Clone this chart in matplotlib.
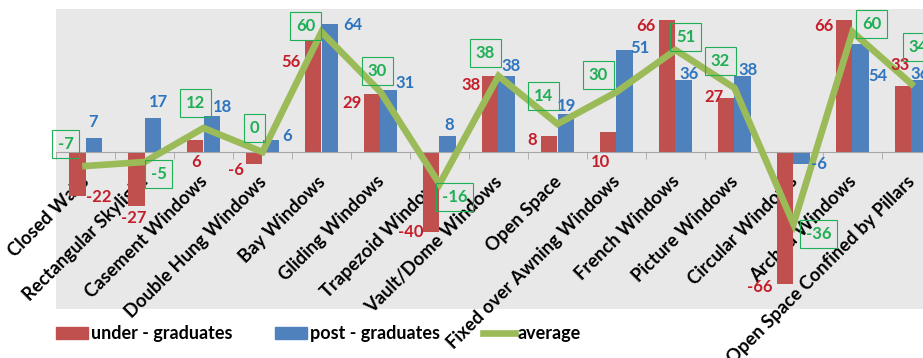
import numpy as np
import matplotlib.pyplot as plt
from matplotlib.patches import Patch
from matplotlib.lines import Line2D
from matplotlib.transforms import ScaledTranslation

# window types and survey scores
categories = ["Closed Walls", "Rectangular Skylight", "Casement Windows",
              "Double Hung Windows", "Bay Windows", "Gliding Windows",
              "Trapezoid Windows", "Vault/Dome Windows", "Open Space",
              "Fixed over Awning Windows", "French Windows", "Picture Windows",
              "Circular Windows", "Arched Windows", "Open Space Confined by Pillars"]
under_grad = [-22, -27, 6, -6, 56, 29, -40, 38, 8, 10, 66, 27, -66, 66, 33]
post_grad = [7, 17, 18, 6, 64, 31, 8, 38, 19, 51, 36, 38, -6, 54, 36]
average = [-7, -5, 12, 0, 60, 30, -16, 38, 14, 30, 51, 32, -36, 60, 34]

# hand placed label offsets (pixels)
under_off = [(22, -1), (-2, -12), (1, -22), (-18, -6), (-22, -22), (-20, -9),
             (-20, 0), (-19, -9), (-17, -4), (-8, -30), (-21, -6), (-12, 1),
             (-25, -3), (-20, -6), (-3, 21)]
post_off = [(-1, 16), (5, 16), (10, 9), (16, 4), (23, -1), (16, 7), (1, 11),
            (4, 10), (1, 8), (15, 2), (5, 6), (5, 6), (17, 0), (17, -32), (0, 6)]
avg_off = [(-20, 22), (14, -12), (-8, 25), (-8, 24), (-16, 6), (-3, 21),
           (15, -13), (-13, 23), (-14, 28), (-18, 17), (10, 13), (-14, 27),
           (25, -10), (19, 8), (7, 37)]

red = "#C0504D"
blue = "#4F81BD"
green = "#9BBB59"
red_txt = "#C41E2A"
blue_txt = "#2E75C0"
green_txt = "#1FAF55"

plt.rcParams['font.family'] = ['Lato', 'DejaVu Sans']
plt.rcParams['font.weight'] = 'bold'

fig = plt.figure(figsize=(9.23, 3.58), dpi=100)
ax = fig.add_axes([56 / 923, 49 / 358, 885 / 923, 300 / 358])
ax.set_facecolor("#E8E8E8")

x = np.arange(len(categories))
w = 0.288
ax.bar(x - w / 2, under_grad, w, color=red, zorder=2)
ax.bar(x + w / 2, post_grad, w, color=blue, zorder=2)
ax.plot(x, average, color=green, lw=4.8, zorder=3, solid_joinstyle='miter')

for i in range(len(x)):
    ax.annotate(str(under_grad[i]), (x[i] - w / 2, under_grad[i]),
                xytext=under_off[i], textcoords='offset pixels',
                ha='center', va='center', color=red_txt, fontsize=12,
                fontweight='bold', zorder=5)
    ax.annotate(str(post_grad[i]), (x[i] + w / 2, post_grad[i]),
                xytext=post_off[i], textcoords='offset pixels',
                ha='center', va='center', color=blue_txt, fontsize=12,
                fontweight='bold', zorder=5)
    ax.annotate(str(average[i]), (x[i], average[i]),
                xytext=avg_off[i], textcoords='offset pixels',
                ha='center', va='center', color=green_txt, fontsize=12,
                fontweight='bold', zorder=6,
                bbox=dict(boxstyle='square,pad=0.35', fc='none',
                          ec=green_txt, lw=0.8))

ax.set_xlim(-0.5, len(categories) - 0.5)
ax.set_ylim(-78.5, 71.5)
for s in ['top', 'right', 'left']:
    ax.spines[s].set_visible(False)
ax.spines['bottom'].set_position(('data', 0))
ax.spines['bottom'].set_color("#A6A6A6")
ax.set_yticks([])
ax.set_xticks(x)
ax.set_xticks(np.arange(len(categories) + 1) - 0.5, minor=True)
ax.tick_params(axis='x', which='major', length=0, pad=15)
ax.tick_params(axis='x', which='minor', length=5, color="#A6A6A6")
ax.set_xticklabels(categories, rotation=45, ha='right', va='top',
                   rotation_mode='anchor', fontsize=13.2, fontweight='bold')
# nudge the slanted names a little to the left
shift = ScaledTranslation(-0.05, 0, fig.dpi_scale_trans)
for lab in ax.get_xticklabels():
    lab.set_transform(lab.get_transform() + shift)

handles = [Patch(color=red), Patch(color=blue), Line2D([], [], color=green, lw=4.8)]
fig.legend(handles, ["under - graduates", "post - graduates", "average"],
           loc='center left', bbox_to_anchor=(40 / 923, 24 / 358), ncol=3,
           frameon=False, handlelength=1.75, handleheight=0.65,
           handletextpad=0.15, columnspacing=2.4,
           prop={'weight': 'bold', 'size': 13})

fig.savefig("out.png", dpi=100)
